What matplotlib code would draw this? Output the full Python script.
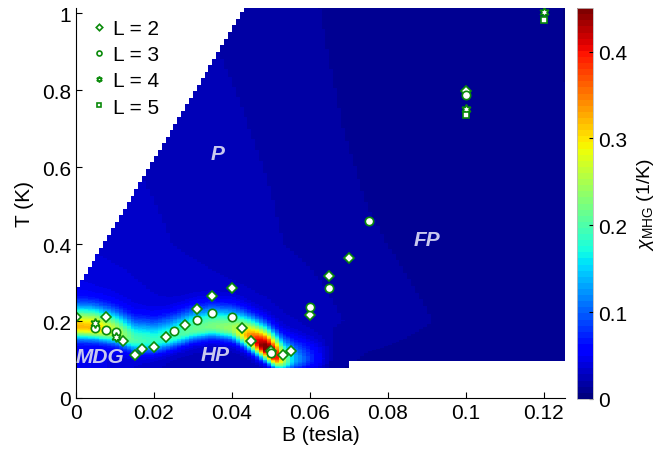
import numpy as np
import matplotlib
matplotlib.use("Agg")
import matplotlib.pyplot as plt

plt.rcParams['font.family'] = ['Liberation Sans', 'DejaVu Sans']
plt.rcParams['mathtext.fontset'] = 'custom'
plt.rcParams['mathtext.rm'] = 'Liberation Sans'
plt.rcParams['mathtext.it'] = 'Liberation Sans:italic'

# ---- transition points (B in tesla, T in K) ----
l2_B = [0.000, 0.0076, 0.012, 0.0151, 0.017, 0.020, 0.023, 0.0281, 0.0311, 0.035,
        0.040, 0.0425, 0.045, 0.050, 0.053, 0.0551, 0.060, 0.065, 0.070, 0.100]
l2_T = [0.211, 0.211, 0.149, 0.112, 0.127, 0.132, 0.158, 0.190, 0.231, 0.264,
        0.285, 0.182, 0.149, 0.123, 0.112, 0.123, 0.215, 0.318, 0.365, 0.797]

l3_B = [0.005, 0.0076, 0.0102, 0.0251, 0.0311, 0.035, 0.040, 0.050, 0.060, 0.065, 0.0751, 0.100]
l3_T = [0.182, 0.177, 0.172, 0.173, 0.203, 0.222, 0.211, 0.118, 0.237, 0.285, 0.459, 0.787]

l4_B = [0.005, 0.0102, 0.100, 0.120]
l4_T = [0.195, 0.158, 0.750, 1.003]

l5_B = [0.100, 0.120]
l5_T = [0.735, 0.983]

# ---- susceptibility map: ridge along the transition + smooth background ----
ridge_B = [0.000, 0.005, 0.010, 0.015, 0.020, 0.025, 0.030, 0.035, 0.040, 0.044,
           0.047, 0.049, 0.051, 0.053, 0.056, 0.060, 0.066]
ridge_T = [0.185, 0.182, 0.172, 0.150, 0.148, 0.160, 0.178, 0.186, 0.180, 0.160,
           0.140, 0.127, 0.110, 0.100, 0.100, 0.100, 0.100]
ridge_chi = [0.27, 0.27, 0.22, 0.16, 0.15, 0.16, 0.18, 0.19, 0.21, 0.30,
             0.40, 0.45, 0.42, 0.25, 0.12, 0.06, 0.0]
ridge_width_up = 0.035
ridge_width_dn = 0.02

bg_B = [0.0, 0.025, 0.05, 0.075, 0.1, 0.126]
bg_T = [0.078, 0.2, 0.4, 0.7, 1.02]
bg_chi = [[0.050, 0.025, 0.020, 0.012, 0.010, 0.008],
          [0.050, 0.035, 0.030, 0.018, 0.012, 0.008],
          [0.035, 0.028, 0.022, 0.015, 0.010, 0.008],
          [0.030, 0.025, 0.020, 0.012, 0.009, 0.007],
          [0.025, 0.022, 0.018, 0.010, 0.008, 0.007]]

# computed region: lower limits and upper-left edge
t_floor = 0.078
notch_B, notch_T = 0.0705, 0.096
edge_B = [0.0, 0.043]
edge_T = [0.28, 1.01]

x_ticks = [0, 0.02, 0.04, 0.06, 0.08, 0.1, 0.12]
x_labels = ['0', '0.02', '0.04', '0.06', '0.08', '0.1', '0.12']
y_ticks = [0, 0.2, 0.4, 0.6, 0.8, 1.0]
y_labels = ['0', '0.2', '0.4', '0.6', '0.8', '1']
cb_ticks = [0, 0.1, 0.2, 0.3, 0.4]
cb_labels = ['0', '0.1', '0.2', '0.3', '0.4']

# grid
B_edges = np.arange(0, 0.1265, 0.001)
T_edges = np.arange(t_floor, 1.024, 0.002)
Bc = 0.5 * (B_edges[1:] + B_edges[:-1])
Tc = 0.5 * (T_edges[1:] + T_edges[:-1])
BB, TT = np.meshgrid(Bc, Tc)

bg_rows = np.array([np.interp(Bc, bg_B, row) for row in bg_chi])
bg = np.array([np.interp(Tc, bg_T, bg_rows[:, j]) for j in range(len(Bc))]).T

rT = np.interp(Bc, ridge_B, ridge_T)[None, :]
rC = np.interp(Bc, ridge_B, ridge_chi, right=0)[None, :]
sig = np.where(TT > rT, ridge_width_up, ridge_width_dn)
chi = bg + rC * np.exp(-0.5 * ((TT - rT) / sig) ** 2)
chi = np.clip(chi, 0, 0.449)

slope = (edge_T[1] - edge_T[0]) / (edge_B[1] - edge_B[0])
t_top = edge_T[0] + slope * BB
mask = (TT > t_top) | ((BB > notch_B) & (TT < notch_T))
chi = np.ma.masked_where(mask, chi)

fig = plt.figure(figsize=(6.7, 4.56), dpi=100)
ax = fig.add_axes([0.1134, 0.125, 0.730, 0.855])
cax = fig.add_axes([0.861, 0.123, 0.024, 0.857])

mesh = ax.pcolormesh(B_edges, T_edges, chi, cmap=plt.get_cmap('jet', 64),
                     vmin=0, vmax=0.45, shading='flat')

mk = dict(linestyle='none', mfc='white', mec='#0a8a0a', mew=1.2)
ax.plot(l2_B, l2_T, marker='D', ms=5.5, label='L = 2', **mk)
ax.plot(l3_B, l3_T, marker='o', ms=6, label='L = 3', **mk)
ax.plot(l4_B, l4_T, marker=(6, 1, 0), ms=7, label='L = 4', **mk)
ax.plot(l5_B, l5_T, marker='s', ms=5, label='L = 5', **mk)

leg = ax.legend(loc='upper left', frameon=False, fontsize=15, markerscale=0.6,
                handlelength=0.8, handletextpad=0.3, labelspacing=0.35,
                bbox_to_anchor=(0.0, 1.01), borderaxespad=0.3)

lab = dict(color='#c8c8ee', fontsize=15, fontweight='bold', fontstyle='italic',
           ha='center', va='center')
ax.text(0.0364, 0.634, 'P', **lab)
ax.text(0.090, 0.413, 'FP', **lab)
ax.text(0.0062, 0.109, 'MDG', **lab)
ax.text(0.0356, 0.114, 'HP', **lab)

ax.set_xlim(0, 0.1255)
ax.set_ylim(0, 1.013)
ax.set_xticks(x_ticks)
ax.set_xticklabels(x_labels)
ax.set_yticks(y_ticks)
ax.set_yticklabels(y_labels)
ax.tick_params(direction='in', length=4, labelsize=15)
ax.spines['top'].set_visible(False)
ax.spines['right'].set_visible(False)
ax.set_xlabel('B (tesla)', fontsize=15, labelpad=2)
ax.set_ylabel('T (K)', fontsize=15, labelpad=6)

cb = fig.colorbar(mesh, cax=cax)
cb.set_ticks(cb_ticks)
cb.set_ticklabels(cb_labels)
cb.ax.tick_params(direction='in', length=3, labelsize=15)
cb.outline.set_edgecolor('#bbbbbb')
cb.outline.set_linewidth(0.6)
cb.set_label(r'$\chi_{\mathrm{MHG}}$ (1/K)', fontsize=14, labelpad=6)

fig.savefig('out.png', dpi=100)
